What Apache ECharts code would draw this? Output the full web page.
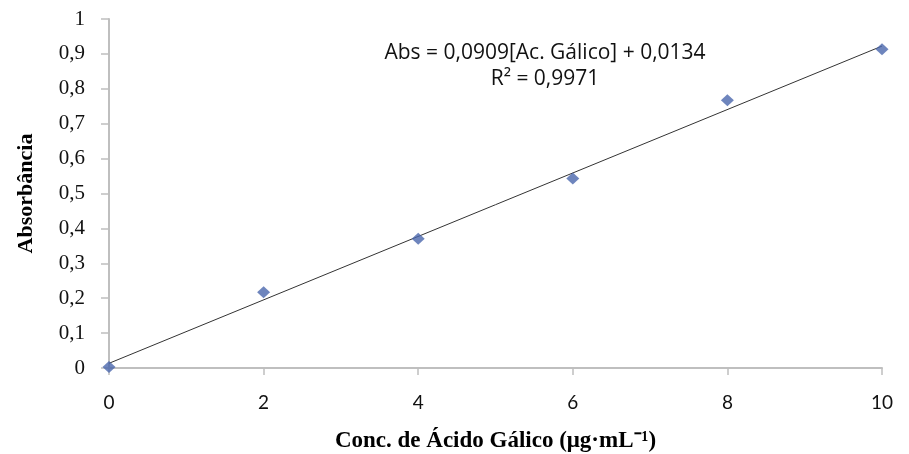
<!DOCTYPE html>
<html>
<head>
<meta charset="utf-8">
<script src="https://cdn.jsdelivr.net/npm/echarts@6/dist/echarts.min.js"></script>
<style>
html, body { margin: 0; padding: 0; background: #fff; }
#main { width: 909px; height: 454px; }
</style>
</head>
<body>
<div id="main"></div>
<script>
var myChart = echarts.init(document.getElementById('main'));

// pontos medidos
var concentracao = [0, 2, 4, 6, 8, 10];
var absorbancia = [0.003, 0.217, 0.370, 0.543, 0.767, 0.913];

// linha de tendência (extremos)
var trendX = [0, 10];
var trendY = [0.0134, 0.9224];

var equacao = 'Abs = 0,0909[Ac. Gálico] + 0,0134';
var r2 = 'R² = 0,9971';

var pontos = concentracao.map(function (x, i) { return [x, absorbancia[i]]; });
var tendencia = trendX.map(function (x, i) { return [x, trendY[i]]; });

var option = {
    animation: false,
    grid: { left: 109, right: 27, top: 19, bottom: 86, containLabel: false, outerBoundsMode: 'none' },
    xAxis: {
        type: 'value',
        min: 0, max: 10, interval: 2,
        name: 'Conc. de Ácido Gálico (μg·mL⁻¹)',
        nameLocation: 'middle',
        nameGap: 62,
        nameTextStyle: { fontFamily: 'Liberation Serif', fontWeight: 'bold', fontSize: 23, color: '#000' },
        axisLine: { lineStyle: { color: '#bfbfbf', width: 2 } },
        axisTick: { show: true, length: 7, lineStyle: { color: '#bfbfbf', width: 1.5 } },
        axisLabel: { fontFamily: 'Lato', fontSize: 19, color: '#111', margin: 25 },
        splitLine: { show: false }
    },
    yAxis: {
        type: 'value',
        min: 0, max: 1, interval: 0.1,
        name: 'Absorbância',
        nameLocation: 'middle',
        nameGap: 72,
        nameRotate: 90,
        nameTextStyle: { fontFamily: 'Liberation Serif', fontWeight: 'bold', fontSize: 22, color: '#000' },
        axisLine: { show: true, lineStyle: { color: '#bfbfbf', width: 2 } },
        axisTick: { show: true, length: 8, lineStyle: { color: '#bfbfbf', width: 1.5 } },
        axisLabel: {
            fontFamily: 'Liberation Serif', fontSize: 21, color: '#111', margin: 24,
            formatter: function (v) { return String(Math.round(v * 10) / 10).replace('.', ','); }
        },
        splitLine: { show: false }
    },
    series: [
        {
            type: 'line',
            data: tendencia,
            showSymbol: false,
            lineStyle: { color: '#333', width: 1 },
            z: 2
        },
        {
            type: 'scatter',
            data: pontos,
            symbol: 'diamond',
            symbolSize: [13, 12],
            itemStyle: { color: '#4a66ac' },
            z: 3
        }
    ],
    graphic: [
        {
            type: 'text',
            x: 545, y: 40,
            style: {
                text: equacao + '\n' + r2,
                align: 'center',
                fontFamily: 'Open Sans',
                fontSize: 21,
                lineHeight: 26,
                fill: '#111'
            }
        }
    ]
};

myChart.setOption(option);
</script>
</body>
</html>
